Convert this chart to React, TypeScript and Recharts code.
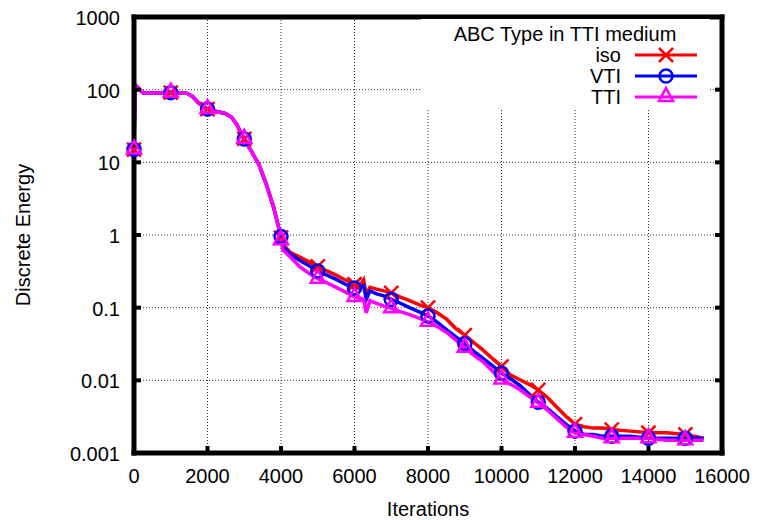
import { LineChart, Line, XAxis, YAxis, CartesianGrid, Legend } from 'recharts'

const iterations = [
  0, 30, 250, 500, 750, 1000, 1250, 1450, 1600, 1750, 1850, 2000, 2250, 2480, 2650, 2800, 2900, 3000,
  3200, 3400, 3600, 3800, 3900, 4000, 4050, 4250, 4500, 4750, 5000, 5250, 5500, 5750, 6000, 6150,
  6250, 6320, 6420, 6600, 6800, 7000, 7250, 7500, 7750, 8000, 8250, 8500, 8750, 9000, 9250, 9500,
  9750, 10000, 10250, 10500, 10750, 11000, 11250, 11500, 11750, 12000, 12250, 12500, 12750, 13000,
  13500, 14000, 14500, 15000, 15500,
]

const isoEnergy = [
  15, 116, 90, 90, 90, 91, 91, 89, 80, 66, 60, 54, 50, 47, 42, 33, 26, 21,
  14, 9.3, 5, 2.4, 1.5, 0.92, 0.75, 0.58, 0.5, 0.43, 0.37, 0.32, 0.28, 0.24, 0.21, 0.2,
  0.24, 0.15, 0.19, 0.18, 0.17, 0.16, 0.14, 0.125, 0.11, 0.1, 0.085, 0.07, 0.052, 0.042, 0.033, 0.026,
  0.02, 0.0155, 0.0118, 0.0102, 0.0088, 0.0074, 0.0058, 0.0043, 0.0032, 0.0025, 0.0023, 0.0022, 0.0022, 0.0021,
  0.002, 0.0019, 0.0019, 0.0018, 0.0016,
]

const vtiEnergy = [
  15, 116, 90, 90, 90, 91, 91, 89, 80, 66, 60, 54, 50, 47, 42, 33, 26, 21,
  14, 9.3, 5, 2.4, 1.5, 0.95, 0.7, 0.55, 0.45, 0.38, 0.32, 0.28, 0.245, 0.21, 0.186, 0.19,
  0.2, 0.13, 0.17, 0.155, 0.145, 0.13, 0.115, 0.1, 0.088, 0.077, 0.063, 0.05, 0.04, 0.032, 0.025, 0.02,
  0.016, 0.0125, 0.0105, 0.0085, 0.0065, 0.005, 0.0041, 0.0032, 0.0025, 0.002, 0.0018, 0.0018, 0.0017, 0.0017,
  0.0017, 0.0016, 0.0016, 0.0016, 0.0016,
]

const ttiEnergy = [
  15, 116, 90, 90, 90, 91, 91, 89, 80, 66, 60, 54, 50, 47, 42, 33, 26, 21,
  14, 9.3, 5, 2.4, 1.5, 0.85, 0.62, 0.5, 0.37, 0.3, 0.25, 0.22, 0.19, 0.165, 0.14, 0.135,
  0.13, 0.085, 0.125, 0.115, 0.105, 0.098, 0.088, 0.08, 0.072, 0.064, 0.055, 0.046, 0.036, 0.028, 0.022, 0.018,
  0.0135, 0.0103, 0.0088, 0.0074, 0.006, 0.0049, 0.0039, 0.003, 0.0023, 0.0019, 0.0018, 0.0017, 0.0016, 0.0016,
  0.0016, 0.0016, 0.0015, 0.0015, 0.0015,
]

const xTicks = [0, 2000, 4000, 6000, 8000, 10000, 12000, 14000, 16000]
const yTicks = [0.001, 0.01, 0.1, 1, 10, 100, 1000]
const keyTitle = 'ABC Type in TTI medium'

const series = [
  { key: 'iso', name: 'iso', color: '#ff0000', marker: 'cross', values: isoEnergy },
  { key: 'vti', name: 'VTI', color: '#0000ff', marker: 'circle', values: vtiEnergy },
  { key: 'tti', name: 'TTI', color: '#ff00ff', marker: 'triangle', values: ttiEnergy },
]

const data = iterations.map((it, i) => {
  const row: any = { it }
  series.forEach((s) => (row[s.key] = s.values[i]))
  return row
})

const FONT = '"Liberation Sans", Arial, Helvetica, sans-serif'

function Marker({ kind, x, y, color }: { kind: string; x: number; y: number; color: string }) {
  if (kind === 'cross') {
    return (
      <g stroke={color} strokeWidth={2.5}>
        <line x1={x - 7} y1={y - 7} x2={x + 7} y2={y + 7} />
        <line x1={x - 7} y1={y + 7} x2={x + 7} y2={y - 7} />
      </g>
    )
  }
  if (kind === 'circle') {
    return (
      <g>
        <circle cx={x} cy={y} r={6.5} fill="none" stroke={color} strokeWidth={2.5} />
        <circle cx={x} cy={y} r={1.3} fill={color} />
      </g>
    )
  }
  return (
    <g>
      <path d={`M${x - 7},${y + 4} L${x + 7},${y + 4} L${x},${y - 9} Z`} fill="none" stroke={color} strokeWidth={2.5} />
      <circle cx={x} cy={y} r={1.3} fill={color} />
    </g>
  )
}

// gnuplot style: one symbol every 1000 iterations
const dotFor = (kind: string, color: string) => (props: any) => {
  const { cx, cy, payload, index } = props
  if (payload.it % 1000 !== 0) return <g key={`d-${index}`} />
  return <Marker key={`d-${index}`} kind={kind} x={cx} y={cy} color={color} />
}

const BottomTick = ({ x, y, payload }: any) => (
  <g>
    <line x1={x} y1={y} x2={x} y2={y - 7} stroke="#000" strokeWidth={4} />
    <text x={x} y={y + 30} textAnchor="middle" fontSize={20} fontFamily={FONT} fill="#000">
      {payload.value}
    </text>
  </g>
)

const TopTick = ({ x, y }: any) => <line x1={x} y1={y} x2={x} y2={y + 7} stroke="#000" strokeWidth={4} />

const LeftTick = ({ x, y, payload }: any) => (
  <g>
    <line x1={x} y1={y} x2={x + 7} y2={y} stroke="#000" strokeWidth={4} />
    <text x={x - 14} y={y + 8} textAnchor="end" fontSize={20} fontFamily={FONT} fill="#000">
      {String(payload.value)}
    </text>
  </g>
)

const RightTick = ({ x, y }: any) => <line x1={x} y1={y} x2={x - 7} y2={y} stroke="#000" strokeWidth={4} />

const YLabel = ({ viewBox }: any) => {
  const cx = viewBox.x + 30
  const cy = viewBox.y + viewBox.height / 2
  return (
    <text x={cx} y={cy} transform={`rotate(-90 ${cx} ${cy})`} textAnchor="middle" fontSize={20} fontFamily={FONT} fill="#000">
      Discrete Energy
    </text>
  )
}

const KeyBox = () => (
  <svg width={289} height={89} style={{ display: 'block' }}>
    <text x={144} y={22} textAnchor="middle" fontSize={20} fontFamily={FONT} fill="#000">
      {keyTitle}
    </text>
    {series.map((s, i) => {
      const y = 36 + i * 21
      return (
        <g key={s.key}>
          <text x={200} y={y + 7} textAnchor="end" fontSize={20} fontFamily={FONT} fill="#000">
            {s.name}
          </text>
          <line x1={214} y1={y} x2={276} y2={y} stroke={s.color} strokeWidth={3} />
          <Marker kind={s.marker} x={245} y={y} color={s.color} />
        </g>
      )
    })}
  </svg>
)

const axisLine = { stroke: '#000', strokeWidth: 5, strokeLinecap: 'square' as const }

export default function App() {
  return (
    <div style={{ position: 'absolute', left: 0, top: 0, background: '#fff' }}>
      <LineChart width={758} height={520} data={data} margin={{ top: 16, right: 35, bottom: 0, left: 0 }}>
        <CartesianGrid stroke="#333" strokeDasharray="1 2" />
        <XAxis
          dataKey="it"
          type="number"
          domain={[0, 16000]}
          ticks={xTicks}
          interval={0}
          height={67}
          axisLine={axisLine}
          tickLine={false}
          tickSize={0}
          tickMargin={0}
          tick={BottomTick}
          label={{ value: 'Iterations', position: 'insideBottom', offset: 4, fontSize: 20, fill: '#000', fontFamily: FONT }}
        />
        <XAxis
          xAxisId="top"
          orientation="top"
          type="number"
          domain={[0, 16000]}
          allowDataOverflow
          ticks={xTicks}
          interval={0}
          height={1}
          axisLine={axisLine}
          tickLine={false}
          tickSize={0}
          tickMargin={0}
          tick={TopTick}
        />
        <YAxis
          type="number"
          scale="log"
          domain={[0.001, 1000]}
          ticks={yTicks}
          interval={0}
          width={134}
          axisLine={axisLine}
          tickLine={false}
          tickSize={0}
          tickMargin={0}
          tick={LeftTick}
          label={<YLabel />}
        />
        <YAxis
          yAxisId="right"
          orientation="right"
          type="number"
          scale="log"
          domain={[0.001, 1000]}
          allowDataOverflow
          ticks={yTicks}
          interval={0}
          width={1}
          axisLine={axisLine}
          tickLine={false}
          tickSize={0}
          tickMargin={0}
          tick={RightTick}
        />
        <Legend
          layout="vertical"
          align="center"
          verticalAlign="middle"
          content={KeyBox}
          wrapperStyle={{ position: 'absolute', left: 421, top: 19, width: 289, height: 89, background: '#fff' }}
        />
        {series.map((s) => (
          <Line
            key={s.key}
            dataKey={s.key}
            name={s.name}
            type="linear"
            stroke={s.color}
            strokeWidth={3.5}
            dot={dotFor(s.marker, s.color)}
            activeDot={false}
            isAnimationActive={false}
          />
        ))}
      </LineChart>
    </div>
  )
}
